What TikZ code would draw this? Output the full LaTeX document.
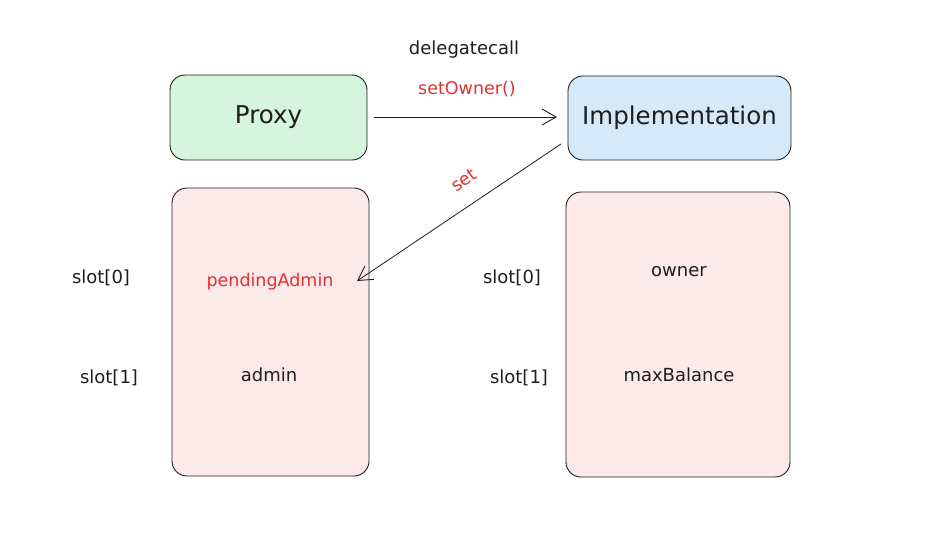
\documentclass[tikz,border=0pt]{standalone}
\usepackage{fontspec}
\setmainfont{DejaVu Sans}
\usetikzlibrary{arrows.meta}
\definecolor{stroke}{HTML}{1E1E1E}
\definecolor{xred}{HTML}{E03131}
\definecolor{xgreen}{RGB}{215,244,220}
\definecolor{xblue}{RGB}{213,233,248}
\definecolor{xpink}{RGB}{252,233,234}
\tikzset{
  box/.style={draw=stroke, line width=0.9pt, rounded corners=15pt, inner sep=0pt},
  big/.style={font=\fontsize{24.5}{28}\selectfont, text=stroke},
  lbl/.style={font=\fontsize{18}{21}\selectfont, text=stroke},
  redlbl/.style={font=\fontsize{17.5}{21}\selectfont, text=xred},
  conn/.style={draw=stroke, line width=0.8pt, -{Straight Barb[length=14pt,width=16pt,line width=0.9pt]}}
}
\begin{document}
\begin{tikzpicture}[x=1pt,y=-1pt]
\useasboundingbox (0,0) rectangle (945,536);
% boxes
\node[box, fill=xgreen, minimum width=197pt, minimum height=85pt] (proxy) at (268.5,117.5) {};
\node[box, fill=xblue, minimum width=223pt, minimum height=84pt] (impl) at (679.5,118) {};
\node[box, fill=xpink, minimum width=197pt, minimum height=288pt] (lstore) at (270.5,332) {};
\node[box, fill=xpink, minimum width=224pt, minimum height=285pt] (rstore) at (678,334.5) {};
% titles
\node[big] (proxyt) at (proxy.center) {Proxy};
\node[big] (implt) at (impl.center) {Implementation};
% top labels
\node[lbl] (dc) at (464,50) {delegatecall};
\node[redlbl] (so) at (467,89) {setOwner()};
% storage contents
\node[redlbl] (pending) at (270,282) {pendingAdmin};
\node[lbl] (admin) at (269,375) {admin};
\node[lbl] (owner) at (679,272) {owner};
\node[lbl] (maxb) at (679,375) {maxBalance};
% slot labels
\node[lbl] (ls0) at (101,278) {slot[0]};
\node[lbl] (ls1) at (109,378) {slot[1]};
\node[lbl] (rs0) at (512,278) {slot[0]};
\node[lbl] (rs1) at (519,378) {slot[1]};
% connectors
\coordinate (a1) at (374,117);
\coordinate (a2) at (557,117);
\draw[conn] (a1) -- (a2);
\coordinate (b1) at (561,144);
\coordinate (b2) at (357,281);
\draw[conn] (b1) -- (b2);
\node[redlbl, rotate=34, inner sep=0pt] (setl) at (464,180) {set};
\end{tikzpicture}
\end{document}
